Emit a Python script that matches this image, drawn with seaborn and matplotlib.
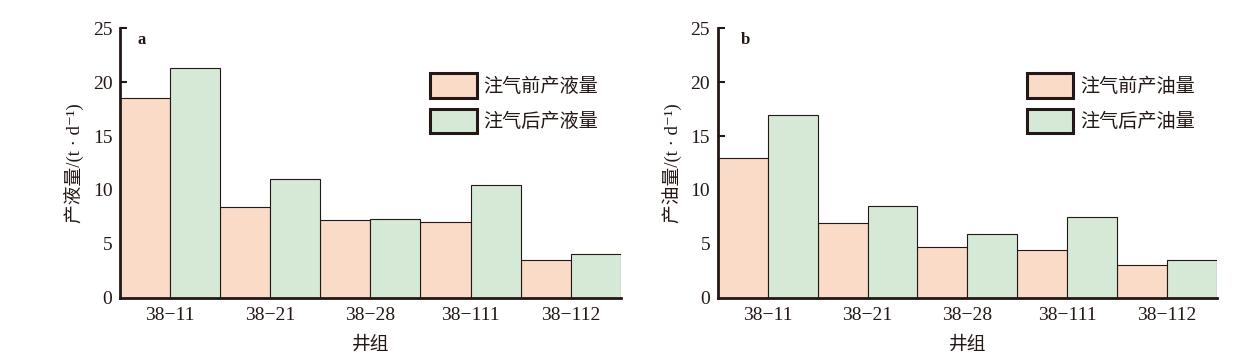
import matplotlib
matplotlib.use('Agg')
import matplotlib.pyplot as plt
import pandas as pd
import seaborn as sns
from matplotlib.patches import Patch

# well groups and production values (t/d)
groups = ['38−11', '38−21', '38−28', '38−111', '38−112']
liquid_before = [18.5, 8.4, 7.2, 7.0, 3.5]
liquid_after = [21.3, 11.0, 7.3, 10.5, 4.1]
oil_before = [13.0, 6.9, 4.7, 4.4, 3.0]
oil_after = [17.0, 8.5, 5.9, 7.5, 3.5]
yticks = [0, 5, 10, 15, 20, 25]

text_color = '#231815'
before_color = '#fadbc8'
after_color = '#d6e9d7'
fam = ['Liberation Serif', 'Noto Sans CJK SC', 'DejaVu Sans']

sns.set_style('ticks')
plt.rcParams['font.family'] = fam
plt.rcParams['text.color'] = text_color
plt.rcParams['axes.labelcolor'] = text_color
plt.rcParams['xtick.color'] = text_color
plt.rcParams['ytick.color'] = text_color

fig = plt.figure(figsize=(12.57, 3.55), dpi=100)
ax_a = fig.add_axes([0.0955, 0.1614, 0.3983, 0.7589])
ax_b = fig.add_axes([0.571, 0.1614, 0.3972, 0.7589])

panels = [
    (ax_a, liquid_before, liquid_after, '注气前产液量', '注气后产液量',
     '产液量', 'a', 0.034),
    (ax_b, oil_before, oil_after, '注气前产油量', '注气后产油量',
     '产油量', 'b', 0.047),
]

for ax, before, after, lab_before, lab_after, ylab, tag, tag_x in panels:
    df = pd.DataFrame({
        'group': groups * 2,
        'value': before + after,
        'kind': [lab_before] * len(groups) + [lab_after] * len(groups),
    })
    sns.barplot(data=df, x='group', y='value', hue='kind', ax=ax,
                palette=[before_color, after_color], width=1.0,
                edgecolor=text_color, linewidth=0.8, saturation=1,
                legend=False)
    ax.set_xlim(-0.5, len(groups) - 0.5)
    ax.set_ylim(0, 25)
    ax.set_yticks(yticks)
    ax.set_yticklabels([str(t) for t in yticks], fontsize=14)
    ax.tick_params(axis='y', direction='in', length=5, width=1.5, pad=5.5)
    ax.tick_params(axis='x', length=0, labelsize=14, pad=7)
    ax.set_xlabel('井组', fontsize=13.5, labelpad=9)
    ax.set_ylabel(ylab + '/(t · d⁻¹)', fontsize=13.5, labelpad=6)
    for side in ['top', 'right']:
        ax.spines[side].set_visible(False)
    for side in ['left', 'bottom']:
        ax.spines[side].set_linewidth(2)
        ax.spines[side].set_color(text_color)
    ax.text(tag_x, 0.942, tag, transform=ax.transAxes, fontsize=12,
            fontweight='bold', ha='left', va='baseline')
    handles = [Patch(facecolor=before_color, edgecolor=text_color,
                     linewidth=2.2, label=lab_before),
               Patch(facecolor=after_color, edgecolor=text_color,
                     linewidth=2.2, label=lab_after)]
    ax.legend(handles=handles, loc='upper left',
              bbox_to_anchor=(0.619, 0.833), frameon=False, fontsize=13.8,
              handlelength=2.43, handleheight=1.6, labelspacing=0.57,
              handletextpad=0.36, borderaxespad=0, borderpad=0)

fig.savefig('out.png', dpi=100, facecolor='white')
